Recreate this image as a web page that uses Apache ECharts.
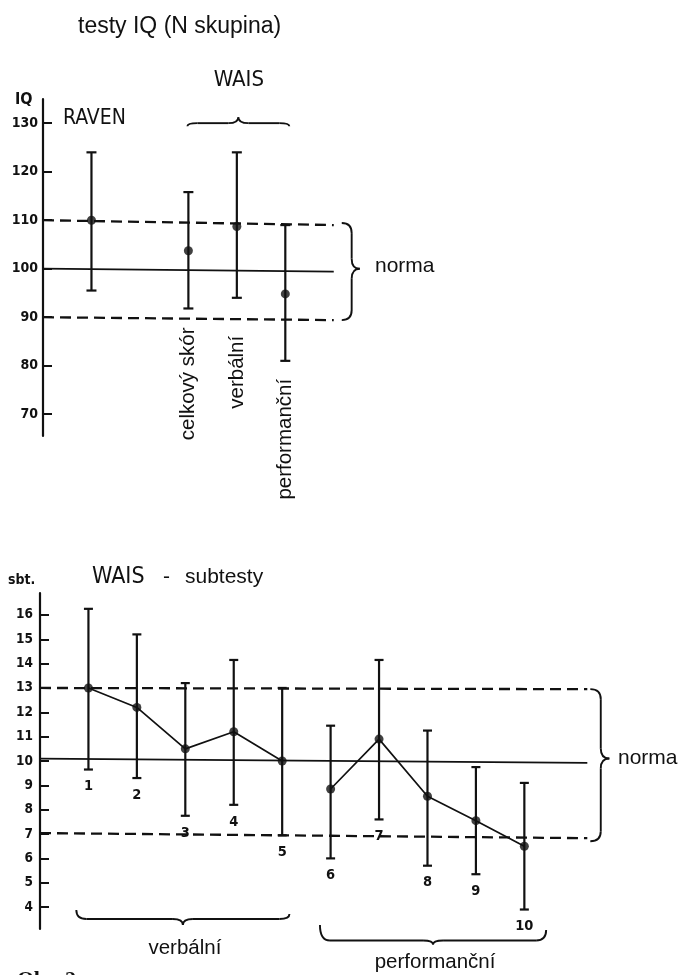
<!DOCTYPE html>
<html>
<head>
<meta charset="utf-8">
<script src="https://cdn.jsdelivr.net/npm/echarts@6/dist/echarts.min.js"></script>
<style>
  html, body { margin: 0; padding: 0; background: #fff; }
  #chart { width: 680px; height: 975px; }
</style>
</head>
<body>
<div id="chart"></div>
<script>
// ---- IQ tests (N group) ----
const iqGroups = ['RAVEN', 'celkový skór', 'verbální', 'performanční'];
const iqX = [1, 3, 4, 5];
const iqMean = [110, 103.7, 108.7, 94.8];
const iqUpper = [124, 115.8, 124, 109];
const iqLower = [95.5, 91.8, 94, 81];
const iqTicks = [70, 80, 90, 100, 110, 120, 130];
// norm band: upper bound, mean, lower bound (hand-drawn, slightly falling to the right)
const iqNormStart = [110, 100, 90];
const iqNormEnd = [109, 99.4, 89.4];

// ---- WAIS subtests ----
const subNames = ['1', '2', '3', '4', '5', '6', '7', '8', '9', '10'];
const subX = [1, 2, 3, 4, 5, 6, 7, 8, 9, 10];
const subMean = [13.0, 12.2, 10.5, 11.2, 10.0, 8.85, 10.9, 8.55, 7.55, 6.5];
const subUpper = [16.25, 15.2, 13.2, 14.15, 13.0, 11.45, 14.15, 11.25, 9.75, 9.1];
const subLower = [9.65, 9.3, 7.75, 8.2, 6.95, 6.0, 7.6, 5.7, 5.35, 3.9];
const subTicks = [4, 5, 6, 7, 8, 9, 10, 11, 12, 13, 14, 15, 16];
const subNormStart = [13, 10.1, 7.04];
const subNormEnd = [12.95, 9.92, 6.83];
// subtest groups: verbal 1-5, performance 6-10
const subGroupNames = ['verbální', 'performanční'];
const subGroupFirst = [0, 5];
const subGroupLast = [4, 9];

// ---- styling / layout ----
const INK = '#111';
const HAND = '"DejaVu Sans Condensed", "DejaVu Sans", sans-serif';
const SANS = '"Liberation Sans", Arial, sans-serif';
const SERIF = '"Liberation Serif", "DejaVu Serif", serif';
const normTypes = ['dashed', 'solid', 'dashed'];

function yAxisCfg(gridIndex, min, max, ticks, labelMargin, fontSize) {
  return {
    gridIndex, type: 'value', min, max,
    axisLine: { show: true, onZero: false, lineStyle: { color: INK, width: 2.2 } },
    axisTick: { show: true, inside: true, length: 9, customValues: ticks, lineStyle: { color: INK, width: 2 } },
    axisLabel: { customValues: ticks, margin: labelMargin, color: INK, fontFamily: HAND, fontWeight: 'bold', fontSize },
    splitLine: { show: false }
  };
}

function errorBars(gridIndex, xs, lows, highs, capHalf) {
  return {
    type: 'custom', xAxisIndex: gridIndex, yAxisIndex: gridIndex, clip: false, silent: true,
    data: xs.map((x, i) => [x, lows[i], highs[i]]),
    encode: { x: 0, y: [1, 2] },
    renderItem(params, api) {
      const lo = api.coord([api.value(0), api.value(1)]);
      const hi = api.coord([api.value(0), api.value(2)]);
      const st = { stroke: INK, lineWidth: 2.2 };
      return {
        type: 'group', children: [
          { type: 'line', shape: { x1: lo[0], y1: lo[1], x2: hi[0], y2: hi[1] }, style: st },
          { type: 'line', shape: { x1: hi[0] - capHalf, y1: hi[1], x2: hi[0] + capHalf, y2: hi[1] }, style: st },
          { type: 'line', shape: { x1: lo[0] - capHalf, y1: lo[1], x2: lo[0] + capHalf, y2: lo[1] }, style: st }
        ]
      };
    }
  };
}

function normLines(gridIndex, xEnd, starts, ends) {
  return starts.map((v, i) => ({
    type: 'line', xAxisIndex: gridIndex, yAxisIndex: gridIndex, symbol: 'none', silent: true,
    data: [[0, v], [xEnd, ends[i]]],
    lineStyle: { color: INK, width: normTypes[i] === 'solid' ? 1.7 : 2.3, type: normTypes[i] === 'solid' ? 'solid' : [11, 6] }
  }));
}

function means(gridIndex, xs, ys) {
  return {
    type: 'scatter', xAxisIndex: gridIndex, yAxisIndex: gridIndex, silent: true, z: 5,
    symbol: 'circle', symbolSize: 9, itemStyle: { color: INK },
    data: xs.map((x, i) => [x, ys[i]])
  };
}

const series = [
  ...normLines(0, 6, iqNormStart, iqNormEnd),
  errorBars(0, iqX, iqLower, iqUpper, 5),
  means(0, iqX, iqMean),

  ...normLines(1, 11.3, subNormStart, subNormEnd),
  errorBars(1, subX, subLower, subUpper, 4.5)
];
// profile lines, one per subtest group
subGroupFirst.forEach((f, g) => {
  const pts = [];
  for (let i = f; i <= subGroupLast[g]; i++) pts.push([subX[i], subMean[i]]);
  series.push({
    type: 'line', xAxisIndex: 1, yAxisIndex: 1, symbol: 'none', silent: true,
    data: pts, lineStyle: { color: INK, width: 1.7 }
  });
});
series.push(means(1, subX, subMean));

const option = {
  backgroundColor: '#fff',
  animation: false,
  grid: [
    { left: 43, top: 99, width: 315, height: 337 },
    { left: 40, top: 593, width: 557, height: 336 }
  ],
  xAxis: [
    { gridIndex: 0, type: 'value', min: 0, max: 6.5, show: false },
    { gridIndex: 1, type: 'value', min: 0, max: 11.5, show: false }
  ],
  yAxis: [
    yAxisCfg(0, 65.5, 135, iqTicks, 5, 14),
    yAxisCfg(1, 3.1, 16.9, subTicks, 7, 13.5)
  ],
  series
};

const chart = echarts.init(document.getElementById('chart'), null, { renderer: 'canvas' });
chart.setOption(option);

const px = (g, x, y) => chart.convertToPixel({ gridIndex: g }, [x, y]);

function text(str, x, y, opts) {
  return {
    type: 'text', x, y, rotation: opts.rotation || 0, silent: true,
    style: {
      text: str, fill: INK,
      fontSize: opts.size, fontFamily: opts.family, fontWeight: opts.weight || 'normal',
      align: opts.align || 'left', verticalAlign: opts.valign || 'middle'
    }
  };
}

const braceStyle = { fill: null, stroke: INK, lineWidth: 1.9 };
function seg(x1, y1, x2, y2) {
  return { type: 'line', silent: true, shape: { x1, y1, x2, y2 }, style: braceStyle };
}
function curve(x1, y1, cx, cy, x2, y2) {
  return { type: 'bezierCurve', silent: true, shape: { x1, y1, cpx1: cx, cpy1: cy, x2, y2 }, style: braceStyle };
}
// right-facing curly brace "}" from yT to yB, tips at x0
function vBrace(x0, yT, yM, yB, depth) {
  const xm = x0 + depth * 0.55, xs = x0 + depth, q = 10;
  return {
    type: 'group', silent: true, children: [
      curve(x0, yT, xm, yT, xm, yT + q),
      seg(xm, yT + q, xm, yM - q),
      curve(xm, yM - q, xm, yM, xs, yM),
      curve(xs, yM, xm, yM, xm, yM + q),
      seg(xm, yM + q, xm, yB - q),
      curve(xm, yB - q, xm, yB, x0, yB)
    ]
  };
}
// horizontal brace; dir = -1 spike up, +1 spike down
function hBrace(x1, y1, x2, y2, flat, spike, dir) {
  const xc = (x1 + x2) / 2, yb = (y1 + y2) / 2;
  const yf = yb + dir * flat, ys = yb + dir * spike, q = 10;
  return {
    type: 'group', silent: true, children: [
      curve(x1, y1, x1, yf, x1 + q, yf),
      seg(x1 + q, yf, xc - q, yf),
      curve(xc - q, yf, xc, yf, xc, ys),
      curve(xc, ys, xc, yf, xc + q, yf),
      seg(xc + q, yf, x2 - q, yf),
      curve(x2 - q, yf, x2, yf, x2, y2)
    ]
  };
}

const g = [];
// --- upper chart annotations ---
g.push(text('testy IQ (N skupina)', 78, 27, { size: 23, family: SANS }));
g.push(text('IQ', 15, 100, { size: 16, family: HAND, weight: 'bold' }));
const ravenPos = px(0, iqX[0], 130);
g.push(text(iqGroups[0], 63, ravenPos[1] - 5, { size: 21, family: HAND }));
const wL = px(0, iqX[1], 129.4), wR = px(0, iqX[3], 129.4);
g.push(hBrace(wL[0] - 1, wL[1], wR[0] + 4, wR[1], 3, 9, -1));
g.push(text('WAIS', (wL[0] + wR[0]) / 2 + 2, 80, { size: 22, family: HAND, align: 'center' }));
// rotated WAIS score names below the whiskers
const rotGap = [0, 19, 38, 18];
for (let i = 1; i < iqGroups.length; i++) {
  const p = px(0, iqX[i], iqLower[i]);
  g.push(text(iqGroups[i], p[0], p[1] + rotGap[i], { size: 20.5, family: SANS, align: 'right', rotation: Math.PI / 2 }));
}
const nT = px(0, 6, iqNormEnd[0]), nM = px(0, 0, iqNormStart[1]), nB = px(0, 6, iqNormEnd[2]);
g.push(vBrace(nT[0] + 8, nT[1] - 2, nM[1], nB[1], 18));
g.push(text('norma', 375, nM[1] - 3, { size: 21, family: SANS }));

// --- lower chart annotations ---
g.push(text('sbt.', 8, 580, { size: 14, family: HAND, weight: 'bold' }));
g.push(text('WAIS', 92, 577, { size: 23, family: HAND }));
g.push(text('-', 163, 577, { size: 21, family: SANS }));
g.push(text('subtesty', 185, 577, { size: 21, family: SANS }));
// subtest numbers under the lower whisker ends
subX.forEach((x, i) => {
  const p = px(1, x, subLower[i]);
  g.push(text(subNames[i], p[0], p[1] + 17, { size: 14.5, family: HAND, weight: 'bold', align: 'center' }));
});
const sT = px(1, 11.3, subNormEnd[0]), sM = px(1, 0, subNormStart[1]), sB = px(1, 11.3, subNormEnd[2]);
g.push(vBrace(sT[0] + 3, sT[1], sM[1], sB[1] + 3, 19));
g.push(text('norma', 618, sM[1], { size: 21, family: SANS }));
// group braces under the subtests
const braceY = [910, 925], braceFlat = [7, 13], braceSpike = [13, 17], braceDrop = [4, 5];
const braceLeftPad = [0.25, 0.22], braceRightPad = [0.15, 0.45];
const braceTextY = [948, 962];
subGroupFirst.forEach((f, k) => {
  const a = px(1, subX[f] - braceLeftPad[k], 0), b = px(1, subX[subGroupLast[k]] + braceRightPad[k], 0);
  g.push(hBrace(a[0], braceY[k], b[0], braceY[k] + braceDrop[k], braceFlat[k], braceSpike[k], 1));
  g.push(text(subGroupNames[k], (a[0] + b[0]) / 2 + 2, braceTextY[k], { size: 20.5, family: SANS, align: 'center' }));
});
g.push(text('Obr. 2', 17, 969, { size: 22, family: SERIF, weight: 'bold', valign: 'top' }));

chart.setOption({ graphic: g });
</script>
</body>
</html>
